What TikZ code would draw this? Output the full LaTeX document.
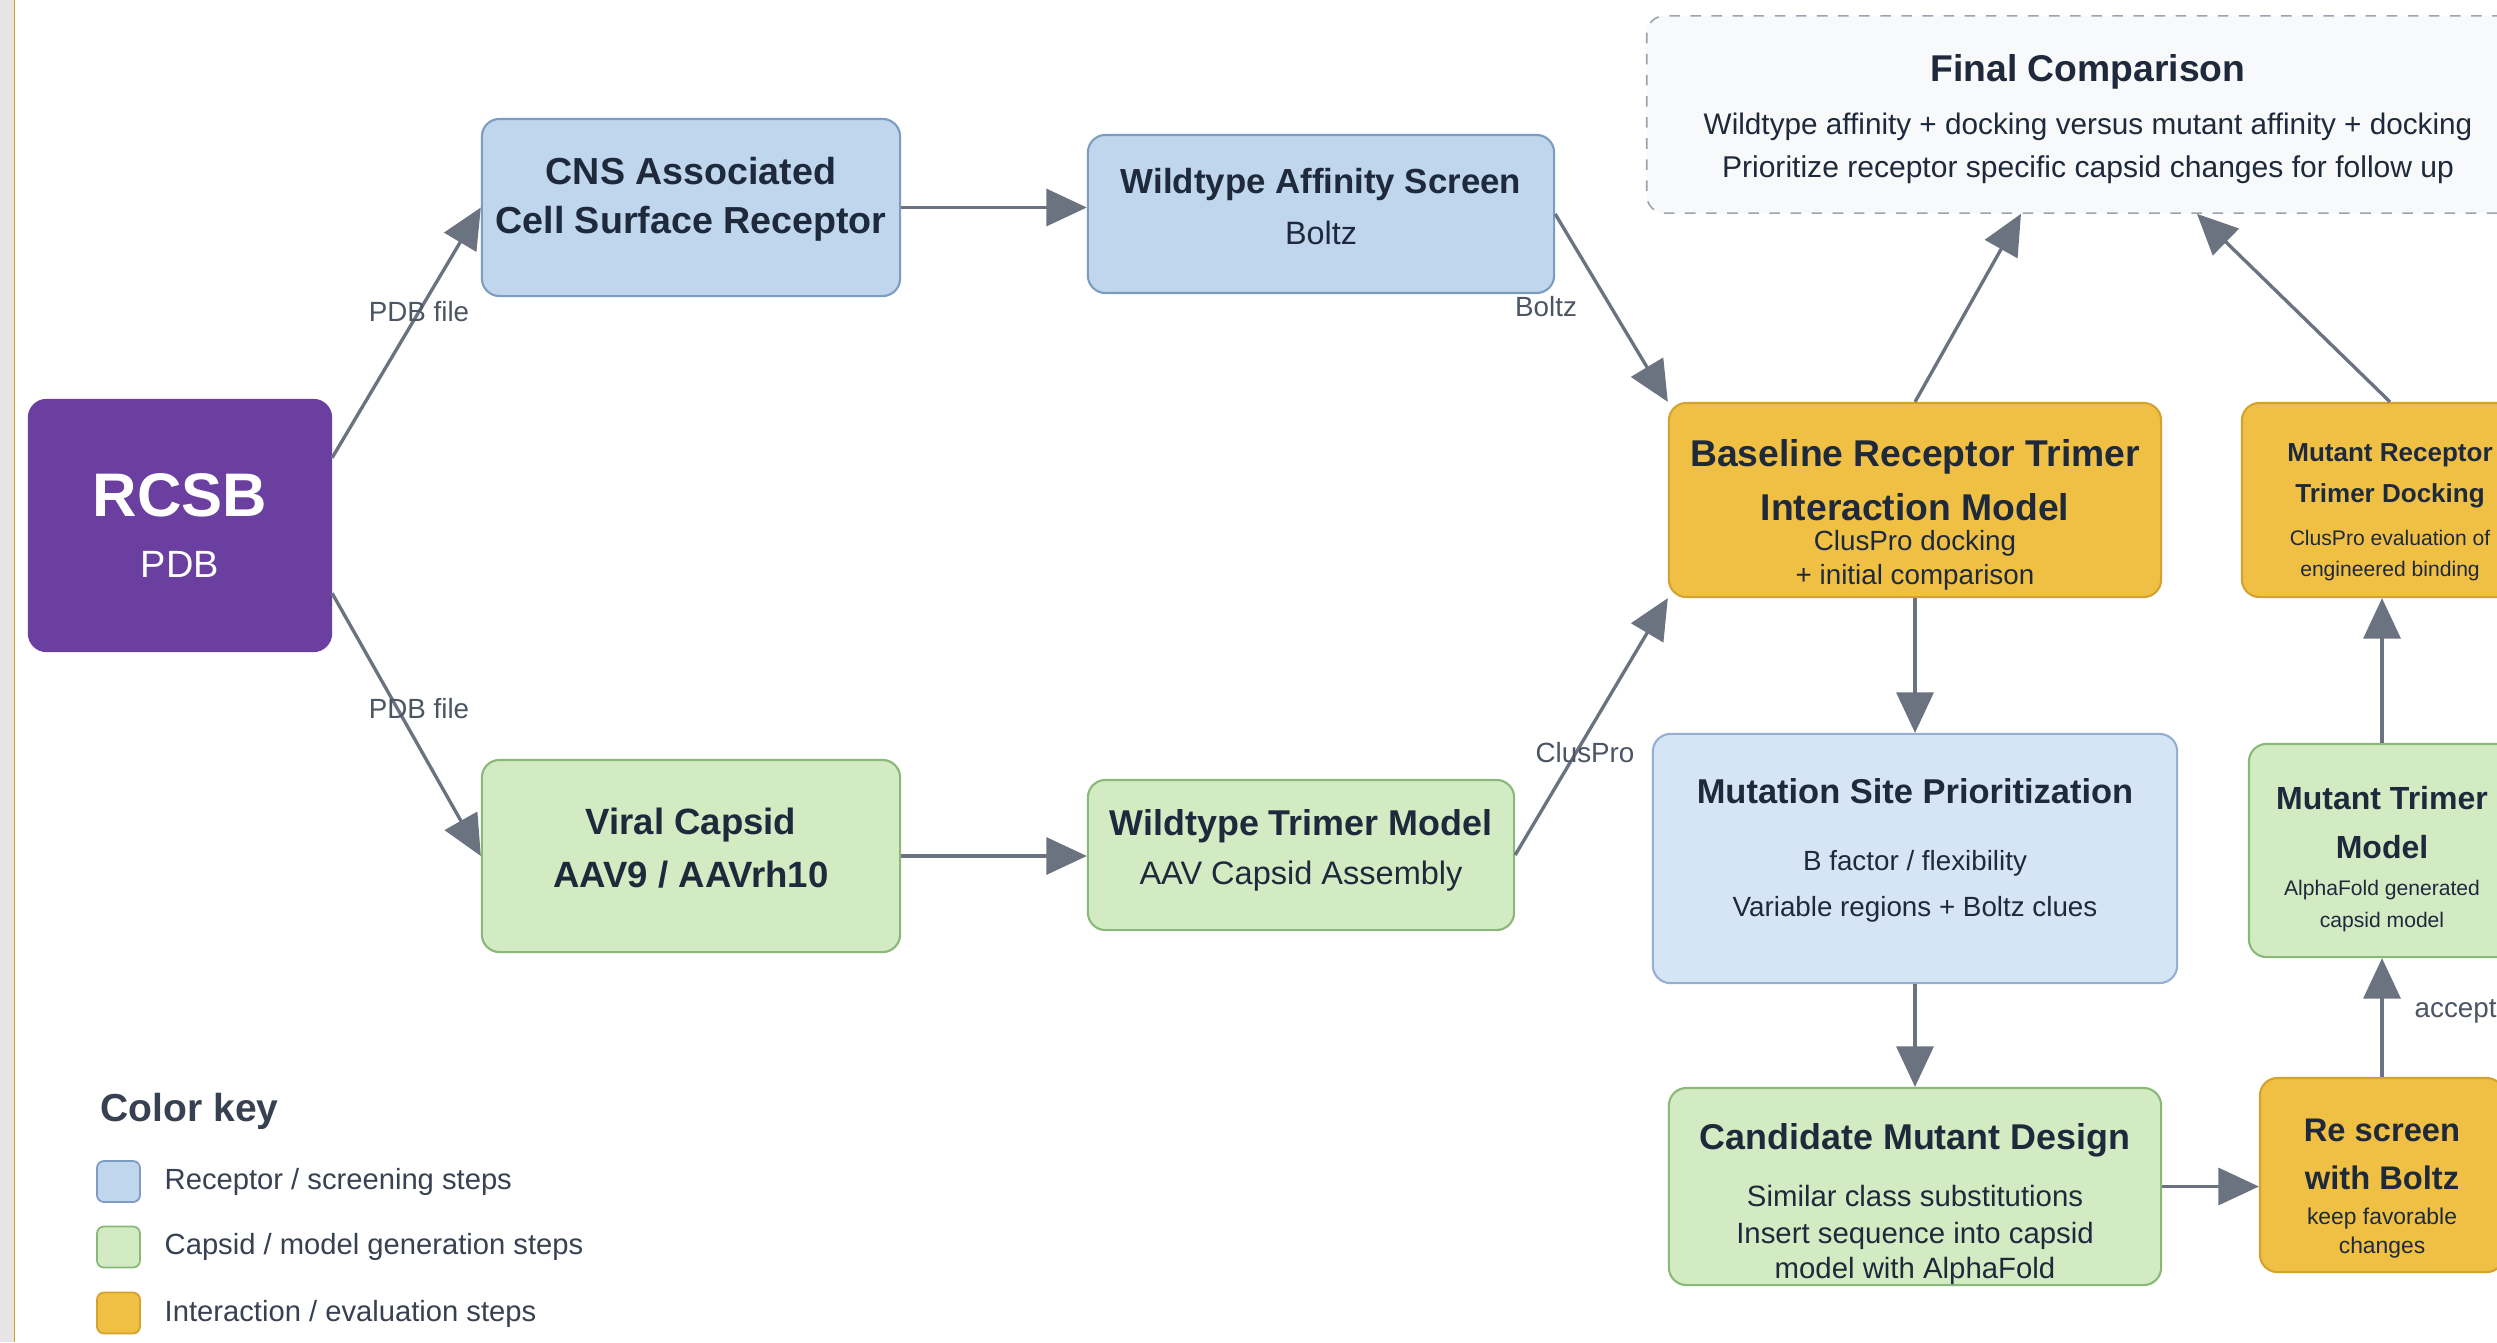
\documentclass[tikz,border=0pt]{standalone}
\usepackage{fontspec}
\setmainfont{Liberation Sans}
\usetikzlibrary{arrows.meta,calc}
\definecolor{bluefill}{HTML}{BFD6EC}
\definecolor{blueborder}{HTML}{7E9CC0}
\definecolor{lbluefill}{HTML}{D6E5F6}
\definecolor{lblueborder}{HTML}{94AFD0}
\definecolor{greenfill}{HTML}{D3EBC3}
\definecolor{greenborder}{HTML}{8AB878}
\definecolor{orangefill}{HTML}{F0C045}
\definecolor{orangeborder}{HTML}{D4A22E}
\definecolor{purplefill}{HTML}{6A3F9F}
\definecolor{textc}{HTML}{1E293B}
\definecolor{labelc}{HTML}{4B5563}
\definecolor{arrowc}{HTML}{6B7280}
\definecolor{finalfill}{HTML}{F8F9FB}
\definecolor{finalborder}{HTML}{9CA3AF}
\definecolor{stripgray}{HTML}{E6E4E4}
\definecolor{stripgold}{HTML}{C9A227}
\definecolor{legendc}{HTML}{374151}
\newcommand\myfs[1]{\fontsize{#1}{#1}\selectfont}
\begin{document}
\begin{tikzpicture}[x=0.01cm,y=-0.01cm,
  box/.style={draw, rounded corners=5pt, line width=0.6pt, inner sep=0pt},
  bluebox/.style={box, fill=bluefill, draw=blueborder},
  lbluebox/.style={box, fill=lbluefill, draw=lblueborder},
  greenbox/.style={box, fill=greenfill, draw=greenborder},
  orangebox/.style={box, fill=orangefill, draw=orangeborder},
  conn/.style={draw=arrowc, line width=0.95pt, -{Triangle[length=11.5pt,width=10.5pt]}},
  tx/.style={inner sep=0pt, text=textc, align=center},
  lbl/.style={inner sep=0pt, text=labelc, font=\myfs{7.9pt}},
  swatch/.style={draw, rounded corners=2pt, line width=0.5pt, minimum width=0.43cm, minimum height=0.41cm, inner sep=0pt},
  legtext/.style={inner sep=0pt, anchor=west, text=legendc, font=\myfs{8.3pt}}
]
\useasboundingbox (0,0) rectangle (2497,1342);
\fill[white] (0,0) rectangle (2497,1342);
\fill[stripgray] (0,0) rectangle (14,1342);
\draw[stripgold, line width=0.45pt] (14.5,0) -- (14.5,1342);

% boxes
\node[box, fill=purplefill, draw=purplefill, minimum width=3.02cm, minimum height=2.51cm] (rcsb) at (180,525.5) {};
\node[bluebox, minimum width=4.18cm, minimum height=1.77cm] (cns) at (691,207.5) {};
\node[bluebox, minimum width=4.66cm, minimum height=1.58cm] (was) at (1321,214) {};
\node[box, fill=finalfill, draw=finalborder, dash pattern=on 3pt off 3pt, line width=0.45pt, minimum width=8.73cm, minimum height=1.97cm] (final) at (2083.5,114.5) {};
\node[orangebox, minimum width=4.92cm, minimum height=1.94cm] (base) at (1915,500) {};
\node[orangebox, minimum width=2.96cm, minimum height=1.94cm] (mrd) at (2390,500) {};
\node[greenbox, minimum width=4.18cm, minimum height=1.92cm] (viral) at (691,856) {};
\node[greenbox, minimum width=4.26cm, minimum height=1.50cm] (wtm) at (1301,855) {};
\node[lbluebox, minimum width=5.24cm, minimum height=2.49cm] (msp) at (1915,858.5) {};
\node[greenbox, minimum width=2.66cm, minimum height=2.13cm] (mtm) at (2382,850.5) {};
\node[greenbox, minimum width=4.92cm, minimum height=1.97cm] (cmd) at (1915,1186.5) {};
\node[orangebox, minimum width=2.44cm, minimum height=1.94cm] (rs) at (2382,1175) {};

% texts
\node[inner sep=0pt, text=white, font=\myfs{17.5pt}\bfseries] (rcsbA) at (180,495) {RCSB};
\node[inner sep=0pt, text=white, font=\myfs{10.8pt}] (rcsbB) at (180,564) {PDB};

\node[tx, font=\myfs{10.7pt}\bfseries] (cnsA) at (691,171) {CNS Associated};
\node[tx, font=\myfs{10.7pt}\bfseries] (cnsB) at (691,224) {Cell Surface Receptor};

\node[tx, font=\myfs{9.9pt}\bfseries] (wasA) at (1321,184) {Wildtype Affinity Screen};
\node[tx, font=\myfs{9.2pt}] (wasB) at (1321,233) {Boltz};

\node[tx, font=\myfs{10.6pt}\bfseries] (finA) at (2088,72) {Final Comparison};
\node[tx, font=\myfs{8.45pt}] (finB) at (2088,127) {Wildtype affinity + docking versus mutant affinity + docking};
\node[tx, font=\myfs{8.55pt}] (finC) at (2088,170) {Prioritize receptor specific capsid changes for follow up};

\node[tx, font=\myfs{10.6pt}\bfseries] (baseA) at (1915,457) {Baseline Receptor Trimer};
\node[tx, font=\myfs{10.6pt}\bfseries] (baseB) at (1915,507) {Interaction Model};
\node[tx, font=\myfs{7.9pt}] (baseC) at (1915,543) {ClusPro docking};
\node[tx, font=\myfs{7.9pt}] (baseD) at (1915,577) {+ initial comparison};

\node[tx, font=\myfs{7.4pt}\bfseries] (mrdA) at (2390,455) {Mutant Receptor};
\node[tx, font=\myfs{7.4pt}\bfseries] (mrdB) at (2390,496) {Trimer Docking};
\node[tx, font=\myfs{6pt}] (mrdC) at (2390,538) {ClusPro evaluation of};
\node[tx, font=\myfs{6pt}] (mrdD) at (2390,571) {engineered binding};

\node[tx, font=\myfs{10.4pt}\bfseries] (viralA) at (691,825) {Viral Capsid};
\node[tx, font=\myfs{10.4pt}\bfseries] (viralB) at (691,875) {AAV9 / AAVrh10};

\node[tx, font=\myfs{10.2pt}\bfseries] (wtmA) at (1301,826) {Wildtype Trimer Model};
\node[tx, font=\myfs{9.25pt}] (wtmB) at (1301,876) {AAV Capsid Assembly};

\node[tx, font=\myfs{9.8pt}\bfseries] (mspA) at (1915,791) {Mutation Site Prioritization};
\node[tx, font=\myfs{7.9pt}] (mspB) at (1915,863) {B factor / flexibility};
\node[tx, font=\myfs{7.9pt}] (mspC) at (1915,909) {Variable regions + Boltz clues};

\node[tx, font=\myfs{9.1pt}\bfseries] (mtmA) at (2382,798) {Mutant Trimer};
\node[tx, font=\myfs{9.1pt}\bfseries] (mtmB) at (2382,847) {Model};
\node[tx, font=\myfs{6pt}] (mtmC) at (2382,890) {AlphaFold generated};
\node[tx, font=\myfs{6pt}] (mtmD) at (2382,922) {capsid model};

\node[tx, font=\myfs{10.2pt}\bfseries] (cmdA) at (1915,1140) {Candidate Mutant Design};
\node[tx, font=\myfs{8.35pt}] (cmdB) at (1915,1196) {Similar class substitutions};
\node[tx, font=\myfs{8.35pt}] (cmdC) at (1915,1236) {Insert sequence into capsid};
\node[tx, font=\myfs{8.35pt}] (cmdD) at (1915,1271) {model with AlphaFold};

\node[tx, font=\myfs{9.3pt}\bfseries] (rsA) at (2382,1130) {Re screen};
\node[tx, font=\myfs{9.3pt}\bfseries] (rsB) at (2382,1178) {with Boltz};
\node[tx, font=\myfs{6.5pt}] (rsC) at (2382,1219) {keep favorable};
\node[tx, font=\myfs{6.5pt}] (rsD) at (2382,1248) {changes};

% connectors
\draw[conn] (rcsb.24) -- (cns.west);
\draw[conn] (rcsb.-24) -- (viral.west);
\draw[conn] (cns.east) -- (cns.east -| was.west);
\draw[conn] (was.east) -- (base.north west);
\draw[conn] (viral.east) -- (viral.east -| wtm.west);
\draw[conn] (wtm.east) -- (base.south west);
\draw[conn] (base.north) -- ($(final.south west)+(375,0)$);
\draw[conn] (mrd.north) -- ($(final.south west)+(551,0)$);
\draw[conn] (base.south) -- (msp.north);
\draw[conn] (msp.south) -- (cmd.north);
\draw[conn] (cmd.east) -- (cmd.east -| rs.west);
\draw[conn] (rs.north) -- (mtm.south);
\draw[conn] (mtm.north) -- (mtm.north |- mrd.south);

% connector labels
\node[lbl] (l1) at (419,312) {PDB file};
\node[lbl] (l2) at (419,709) {PDB file};
\node[lbl] (l3) at (1546,307) {Boltz};
\node[lbl] (l4) at (1585,753) {ClusPro};
\node[lbl, anchor=west] (l5) at (2414,1011) {accept};

% legend
\node[inner sep=0pt, anchor=west, text=legendc, font=\myfs{11.1pt}\bfseries] (keyt) at (100,1111) {Color key};
\node[swatch, fill=bluefill, draw=blueborder] (sw1) at (118.5,1181.5) {};
\node[swatch, fill=greenfill, draw=greenborder] (sw2) at (118.5,1247) {};
\node[swatch, fill=orangefill, draw=orangeborder] (sw3) at (118.5,1313) {};
\node[legtext] (k1) at (164,1182) {Receptor / screening steps};
\node[legtext] (k2) at (164,1247) {Capsid / model generation steps};
\node[legtext] (k3) at (164,1314) {Interaction / evaluation steps};
\end{tikzpicture}
\end{document}
